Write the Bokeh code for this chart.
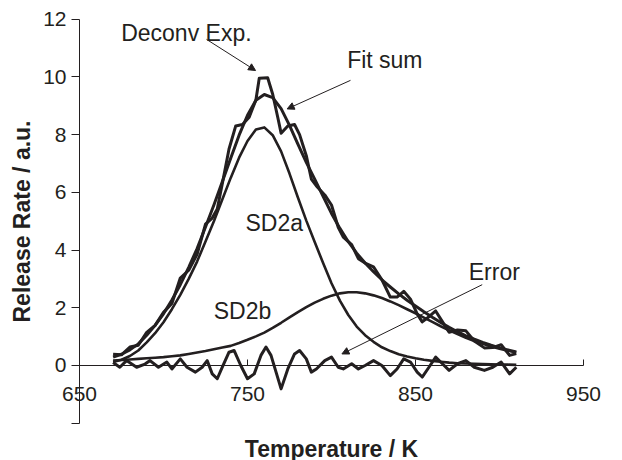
from bokeh.plotting import figure
from bokeh.models import Range1d, FixedTicker, Label, Arrow, NormalHead, LinearAxis
from bokeh.embed import file_html
from bokeh.resources import INLINE

# ---- data ----
T_fit = [670, 675, 680, 685, 690, 695, 700, 705, 710, 715, 720, 725, 730, 735, 740,
         745, 750, 755, 760, 765, 770, 775, 780, 785, 790, 795, 800, 805, 810, 815,
         820, 825, 830, 835, 840, 845, 850, 855, 860, 865, 870, 875, 880, 885, 890,
         895, 900, 905, 910]
sd2a = [0.12, 0.20, 0.33, 0.52, 0.80, 1.12, 1.50, 1.95, 2.45, 3.00, 3.60, 4.30, 5.00, 5.75, 6.50,
        7.20, 7.78, 8.18, 8.25, 7.98, 7.42, 6.65, 5.82, 5.02, 4.28, 3.55, 2.85, 2.25, 1.75, 1.35,
        1.05, 0.82, 0.63, 0.50, 0.39, 0.31, 0.25, 0.20, 0.16, 0.13, 0.10, 0.08, 0.07, 0.06, 0.05,
        0.04, 0.03, 0.03, 0.02]
sd2b = [0.17, 0.19, 0.21, 0.23, 0.25, 0.27, 0.29, 0.32, 0.35, 0.40, 0.45, 0.50, 0.56, 0.62, 0.68,
        0.78, 0.89, 1.01, 1.14, 1.30, 1.48, 1.67, 1.85, 2.02, 2.18, 2.31, 2.42, 2.50, 2.54, 2.54,
        2.50, 2.43, 2.34, 2.22, 2.09, 1.95, 1.81, 1.66, 1.51, 1.36, 1.22, 1.09, 0.96, 0.85, 0.75,
        0.66, 0.58, 0.51, 0.45]
fit_sum = [0.29, 0.39, 0.54, 0.75, 1.05, 1.39, 1.79, 2.27, 2.80, 3.40, 4.05, 4.80, 5.56, 6.37, 7.18,
           7.98, 8.67, 9.19, 9.39, 9.28, 8.90, 8.32, 7.67, 7.04, 6.46, 5.86, 5.27, 4.75, 4.29, 3.89,
           3.55, 3.25, 2.97, 2.72, 2.48, 2.26, 2.06, 1.86, 1.67, 1.49, 1.32, 1.17, 1.03, 0.91, 0.80,
           0.70, 0.61, 0.54, 0.47]

T_exp = [670, 675, 680, 685, 690, 695, 700, 705, 710, 715, 720, 725, 729, 732, 735,
         739, 743, 747, 751, 755, 757, 762, 765, 768, 770, 774, 778, 781, 785, 788,
         791, 796, 800, 804, 807, 812, 816, 820, 825, 830, 835, 839, 843, 847, 851,
         854, 858, 862, 866, 870, 875, 880, 885, 891, 896, 901, 906, 910]
exp = [0.39, 0.37, 0.64, 0.70, 1.15, 1.39, 1.84, 2.15, 3.03, 3.30, 3.85, 4.90, 5.11, 5.42, 6.30,
       7.50, 8.30, 8.35, 8.60, 9.20, 9.95, 9.97, 9.40, 8.60, 8.05, 8.30, 8.35, 8.00, 7.27, 6.46,
       6.22, 5.91, 5.56, 4.79, 4.45, 4.19, 3.70, 3.55, 3.42, 2.97, 2.37, 2.37, 2.57, 2.30, 1.79,
       1.51, 1.69, 1.89, 1.52, 1.15, 1.23, 1.20, 0.85, 0.61, 0.62, 0.72, 0.35, 0.41]

T_err = [670, 674, 678, 684, 689, 692, 697, 702, 705, 710, 714, 719, 723, 726, 729,
         732, 735, 739, 742, 746, 750, 754, 758, 761, 764, 767, 770, 774, 778, 781,
         785, 788, 791, 796, 800, 804, 807, 812, 816, 820, 825, 830, 835, 839, 843,
         847, 851, 854, 858, 862, 866, 870, 875, 880, 885, 891, 896, 901, 906, 910]
err = [0.10, -0.06, 0.17, -0.06, 0.05, 0.17, -0.06, 0.12, -0.12, 0.23, -0.06, -0.23, -0.06, 0.17, -0.29,
       -0.46, -0.06, 0.46, 0.52, 0.00, -0.46, -0.29, 0.35, 0.64, 0.35, -0.23, -0.81, -0.12, 0.40, 0.52,
       0.23, -0.23, -0.12, 0.17, 0.29, -0.06, -0.12, 0.06, -0.12, 0.00, 0.17, 0.00, -0.35, -0.12, 0.23,
       0.12, -0.23, -0.40, -0.06, 0.29, 0.06, -0.17, 0.06, 0.17, -0.06, -0.17, -0.06, 0.12, -0.29, -0.06]

x_ticks = [650, 750, 850, 950]
y_ticks = [-2, 0, 2, 4, 6, 8, 10, 12]

INK = "#231f20"
FONT = "Liberation Sans"

# frame covers the whole canvas; axes are placed at x=650 and y=0
p = figure(width=622, height=460, output_backend="svg", toolbar_location=None,
           x_range=Range1d(602.98, 973.21), y_range=Range1d(-3.292, 12.647),
           x_axis_location=None, y_axis_location=None,
           min_border_left=0, min_border_right=0, min_border_top=0, min_border_bottom=0)
p.outline_line_color = None
p.xgrid.grid_line_color = None
p.ygrid.grid_line_color = None
p.background_fill_color = "white"
p.border_fill_color = "white"

ya = LinearAxis(fixed_location=650, bounds=(-2, 12), ticker=FixedTicker(ticks=y_ticks))
ya.major_label_overrides = {-2: ""}
ya.major_tick_out = 8
ya.major_tick_in = 0
ya.minor_tick_line_color = None
ya.axis_line_color = INK
ya.major_tick_line_color = INK
ya.major_label_text_font = FONT
ya.major_label_text_font_size = "21px"
ya.major_label_text_color = INK
ya.major_label_standoff = 5
ya.axis_label = "Release Rate / a.u."
ya.axis_label_text_font = FONT
ya.axis_label_text_font_size = "23px"
ya.axis_label_text_font_style = "bold"
ya.axis_label_text_color = INK
ya.axis_label_standoff = 5
p.add_layout(ya, "left")

xa = LinearAxis(fixed_location=0, bounds=(650, 950), ticker=FixedTicker(ticks=x_ticks))
xa.major_tick_in = 6
xa.major_tick_out = 0
xa.minor_tick_line_color = None
xa.axis_line_color = INK
xa.major_tick_line_color = INK
xa.major_label_text_font = FONT
xa.major_label_text_font_size = "21px"
xa.major_label_text_color = INK
xa.major_label_standoff = 22
xa.axis_label = "Temperature / K"
xa.axis_label_text_font = FONT
xa.axis_label_text_font_size = "23px"
xa.axis_label_text_font_style = "bold"
xa.axis_label_text_color = INK
xa.axis_label_standoff = 31
p.add_layout(xa, "below")

# curves
lw = 3
p.line(T_exp, exp, line_color=INK, line_width=lw, line_join="round")
p.line(T_fit, fit_sum, line_color=INK, line_width=lw, line_join="round")
p.line(T_fit, sd2a, line_color=INK, line_width=2.6, line_join="round")
p.line(T_fit, sd2b, line_color=INK, line_width=2.6, line_join="round")
p.line(T_err, err, line_color=INK, line_width=lw, line_join="round")

# annotations
def lab(x, y, t):
    p.add_layout(Label(x=x, y=y, text=t, text_font=FONT, text_font_size="23px",
                       text_color=INK, text_baseline="alphabetic", text_align="left"))

lab(674.8, 11.52, "Deconv Exp.")
lab(809.3, 10.58, "Fit sum")
lab(748.8, 4.95, "SD2a")
lab(729.9, 1.89, "SD2b")
lab(881.7, 3.24, "Error")

def arr(x0, y0, x1, y1):
    p.add_layout(Arrow(end=NormalHead(size=7, fill_color=INK, line_color=INK, line_width=1),
                       x_start=x0, y_start=y0, x_end=x1, y_end=y1,
                       line_color=INK, line_width=1))

arr(725.6, 11.3, 754.8, 10.22)
arr(811.3, 9.88, 773.6, 8.89)
arr(889.7, 2.8, 806.2, 0.4)

open("out.html", "w").write(file_html(p, INLINE))
